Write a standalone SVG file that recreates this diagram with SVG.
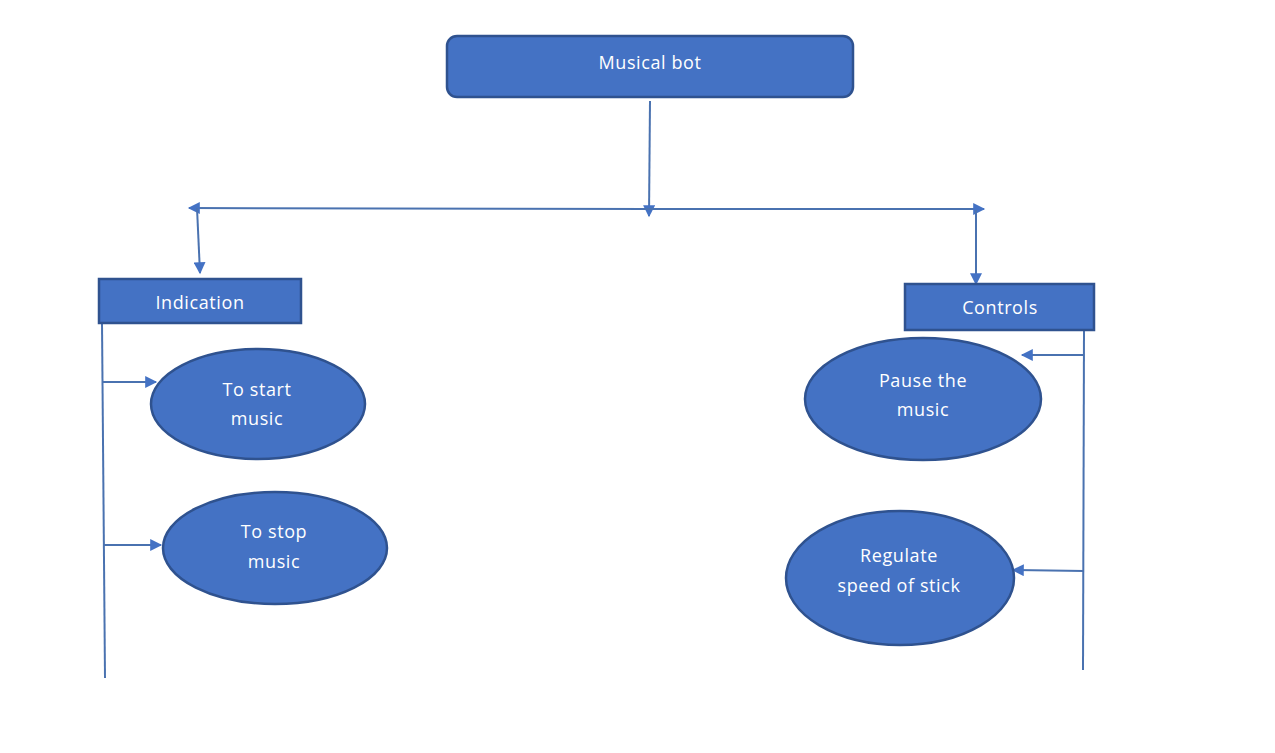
<svg xmlns="http://www.w3.org/2000/svg" width="1275" height="753" viewBox="0 0 1275 753">
<defs>
<style>
.node{fill:#4472C4;stroke:#2F528F;stroke-width:2.5}
.lbl{fill:#ffffff;font-family:"Open Sans","Noto Sans","Liberation Sans",sans-serif;font-size:18px;letter-spacing:0.6px;text-anchor:middle;dominant-baseline:central}
.ln{fill:none;stroke:#4A72B0;stroke-width:2}
</style>
<marker id="ah" viewBox="0 0 10 10" refX="9" refY="5" markerWidth="13" markerHeight="12" markerUnits="userSpaceOnUse" orient="auto">
<path d="M0,0 L10,5 L0,10 Z" fill="#4472C4"/>
</marker>
</defs>
<rect width="1275" height="753" fill="#ffffff"/>
<g id="connectors">
<path class="ln" d="M650,101 L649,216" marker-end="url(#ah)"/>
<path class="ln" d="M649,209 L189,208" marker-end="url(#ah)"/>
<path class="ln" d="M649,209 L984,209" marker-end="url(#ah)"/>
<path class="ln" d="M197,208 L200,273" marker-end="url(#ah)"/>
<path class="ln" d="M976,210 L976,284" marker-end="url(#ah)"/>
<path class="ln" d="M102,323 L105,678"/>
<path class="ln" d="M103,382 L156,382" marker-end="url(#ah)"/>
<path class="ln" d="M104,545 L161,545" marker-end="url(#ah)"/>
<path class="ln" d="M1084,330 L1083,670"/>
<path class="ln" d="M1084,355 L1022,355" marker-end="url(#ah)"/>
<path class="ln" d="M1084,571 L1013,570" marker-end="url(#ah)"/>
</g>
<g id="musical-bot">
<rect class="node" x="447" y="36" width="406" height="61" rx="10"/>
<text class="lbl" x="650" y="62">Musical bot</text>
</g>
<g id="indication">
<rect class="node" x="99" y="279" width="202" height="44"/>
<text class="lbl" x="200" y="302">Indication</text>
</g>
<g id="controls">
<rect class="node" x="905" y="284" width="189" height="46"/>
<text class="lbl" x="1000" y="307">Controls</text>
</g>
<g id="start-music">
<ellipse class="node" cx="258" cy="404" rx="107" ry="55"/>
<text class="lbl" x="257" y="389">To start</text>
<text class="lbl" x="257" y="418">music</text>
</g>
<g id="stop-music">
<ellipse class="node" cx="275" cy="548" rx="112" ry="56"/>
<text class="lbl" x="274" y="531">To stop</text>
<text class="lbl" x="274" y="561">music</text>
</g>
<g id="pause-music">
<ellipse class="node" cx="923" cy="399" rx="118" ry="61"/>
<text class="lbl" x="923" y="380">Pause the</text>
<text class="lbl" x="923" y="409">music</text>
</g>
<g id="regulate-speed">
<ellipse class="node" cx="900" cy="578" rx="114" ry="67"/>
<text class="lbl" x="899" y="555">Regulate</text>
<text class="lbl" x="899" y="585">speed of stick</text>
</g>
</svg>
